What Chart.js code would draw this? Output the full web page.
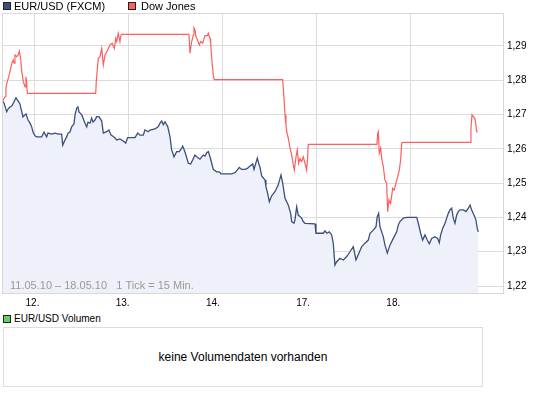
<!DOCTYPE html>
<html>
<head>
<meta charset="utf-8">
<script src="https://cdn.jsdelivr.net/npm/chart.js@4.4.0/dist/chart.umd.min.js"></script>
<style>
  body { margin: 0; background: #fff; font-family: "Liberation Sans", Arial, sans-serif; }
  #wrap { position: relative; width: 545px; height: 395px; overflow: hidden; }
  #main { position: absolute; left: 0; top: 0; }
  .leg { position: absolute; font-size: 11px; line-height: 12px; color: #000; white-space: nowrap; }
  .sq { position: absolute; width: 6px; height: 6px; border: 1px solid #222; }
  #volbox { position: absolute; left: 3px; top: 327px; width: 478px; height: 58px; border: 1px solid #ddd;
            font-size: 12px; line-height: 58px; text-align: center; color: #000; }
</style>
</head>
<body>
<div id="wrap">
  <canvas id="main" width="545" height="312"></canvas>
  <div class="sq" style="left:3px;top:2px;background:#3d4f7c"></div>
  <div class="leg" style="left:14px;top:0px">EUR/USD (FXCM)</div>
  <div class="sq" style="left:128px;top:2px;background:#ff5e5e"></div>
  <div class="leg" style="left:141px;top:0px">Dow Jones</div>
  <div class="sq" style="left:3px;top:315px;background:#66cc66"></div>
  <div class="leg" style="left:14px;top:313px;font-size:10px">EUR/USD Volumen</div>
  <div id="volbox">keine Volumendaten vorhanden</div>
</div>
<script>
// Handelstage (1 = 12.05., ... 5 = 18.05.), Zeit in Tagen
const dayLabels = ['12.', '13.', '14.', '17.', '18.'];
const dayTicks = [1, 2, 3, 4, 5];
const yTicks = [1.22, 1.23, 1.24, 1.25, 1.26, 1.27, 1.28, 1.29];

// EUR/USD (FXCM)
const eurX = [
  0.652,0.670,0.699,0.713,0.734,0.752,0.766,0.787,0.798,0.819,
  0.840,0.859,0.872,0.904,0.926,0.947,0.965,0.979,1.000,1.018,
  1.071,1.096,1.124,1.138,1.178,1.213,1.245,1.284,1.295,1.319,
  1.337,1.351,1.372,1.390,1.415,1.426,1.444,1.457,1.468,1.497,
  1.511,1.532,1.550,1.564,1.585,1.603,1.617,1.638,1.656,1.681,
  1.710,1.727,1.763,1.787,1.809,1.833,1.851,1.869,1.904,1.939,
  1.965,1.986,2.064,2.093,2.117,2.152,2.170,2.205,2.223,2.277,
  2.312,2.330,2.348,2.365,2.383,2.412,2.436,2.454,2.479,2.507,
  2.535,2.561,2.571,2.585,2.606,2.631,2.656,2.678,2.702,2.720,
  2.755,2.790,2.809,2.827,2.844,2.862,2.880,2.897,2.933,2.961,
  2.979,3.093,3.128,3.152,3.173,3.199,3.234,3.259,3.287,3.316,
  3.330,3.351,3.365,3.380,3.394,3.412,3.447,3.457,3.471,3.493,
  3.518,3.553,3.588,3.617,3.635,3.660,3.695,3.720,3.731,3.755,
  3.766,3.784,3.801,3.837,3.854,3.872,3.979,3.989,4.067,4.085,
  4.103,4.131,4.156,4.173,4.191,4.209,4.245,4.280,4.316,4.351,
  4.386,4.415,4.439,4.476,4.511,4.546,4.564,4.599,4.628,4.641,
  4.656,4.670,4.705,4.723,4.748,4.777,4.812,4.848,4.865,4.883,
  4.918,4.954,5.061,5.078,5.103,5.124,5.149,5.173,5.195,5.220,
  5.255,5.284,5.301,5.316,5.337,5.362,5.380,5.397,5.415,5.433,
  5.450,5.468,5.486,5.503,5.521,5.556,5.585,5.610,5.628,5.646,
  5.670,5.691,5.705,5.716
];
const eurY = [
  1.2740,1.2734,1.2708,1.2716,1.2722,1.2725,1.2731,1.2743,1.2749,1.2740,
  1.2731,1.2708,1.2693,1.2702,1.2684,1.2675,1.2664,1.2649,1.2638,1.2635,
  1.2635,1.2649,1.2635,1.2646,1.2643,1.2646,1.2643,1.2643,1.2611,1.2626,
  1.2635,1.2646,1.2649,1.2664,1.2673,1.2699,1.2719,1.2722,1.2708,1.2699,
  1.2690,1.2675,1.2664,1.2678,1.2675,1.2690,1.2678,1.2684,1.2694,1.2694,
  1.2681,1.2646,1.2650,1.2655,1.2640,1.2636,1.2632,1.2626,1.2629,1.2623,
  1.2617,1.2633,1.2633,1.2646,1.2640,1.2640,1.2655,1.2650,1.2655,1.2658,
  1.2665,1.2675,1.2681,1.2670,1.2679,1.2665,1.2636,1.2597,1.2577,1.2592,
  1.2592,1.2602,1.2608,1.2599,1.2582,1.2558,1.2556,1.2568,1.2582,1.2577,
  1.2570,1.2582,1.2579,1.2589,1.2592,1.2577,1.2558,1.2540,1.2533,1.2533,
  1.2527,1.2527,1.2531,1.2538,1.2546,1.2540,1.2540,1.2543,1.2550,1.2556,
  1.2540,1.2560,1.2573,1.2558,1.2546,1.2521,1.2509,1.2490,1.2475,1.2446,
  1.2463,1.2475,1.2495,1.2524,1.2500,1.2456,1.2436,1.2412,1.2388,1.2383,
  1.2393,1.2431,1.2407,1.2398,1.2388,1.2383,1.2381,1.2354,1.2354,1.2361,
  1.2354,1.2358,1.2349,1.2325,1.2261,1.2271,1.2281,1.2276,1.2286,1.2300,
  1.2315,1.2276,1.2291,1.2315,1.2325,1.2334,1.2354,1.2363,1.2373,1.2402,
  1.2412,1.2373,1.2344,1.2320,1.2296,1.2320,1.2339,1.2358,1.2378,1.2388,
  1.2398,1.2400,1.2400,1.2383,1.2354,1.2334,1.2349,1.2334,1.2323,1.2339,
  1.2344,1.2339,1.2326,1.2349,1.2368,1.2383,1.2398,1.2412,1.2422,1.2427,
  1.2398,1.2383,1.2407,1.2417,1.2422,1.2422,1.2417,1.2427,1.2436,1.2422,
  1.2407,1.2393,1.2368,1.2358
];

// Dow Jones (auf EUR/USD-Skala normiert)
const djX = [
  0.652,0.663,0.681,0.691,0.705,0.720,0.734,0.745,0.759,0.769,
  0.777,0.787,0.805,0.822,0.833,0.848,0.859,0.876,0.894,0.904,
  0.912,0.918,1.646,1.652,1.667,1.673,1.691,1.710,1.727,1.745,
  1.763,1.780,1.798,1.822,1.844,1.859,1.869,1.886,1.904,1.915,
  1.922,2.638,2.649,2.667,2.684,2.691,2.702,2.713,2.727,2.748,
  2.763,2.784,2.809,2.833,2.844,2.862,2.869,2.883,2.897,2.907,
  3.635,3.649,3.660,3.670,3.678,3.695,3.713,3.731,3.748,3.759,
  3.777,3.790,3.805,3.819,3.837,3.854,3.872,3.890,3.901,3.907,
  4.638,4.646,4.652,4.663,4.678,4.688,4.705,4.723,4.741,4.752,
  4.766,4.784,4.805,4.822,4.840,4.859,4.876,4.890,4.901,4.912,
  5.633,5.638,5.649,5.663,5.681,5.691,5.699,5.710
];
const djY = [
  1.2736,1.2743,1.2752,1.2777,1.2796,1.2810,1.2825,1.2840,1.2854,1.2859,
  1.2850,1.2874,1.2869,1.2874,1.2885,1.2864,1.2825,1.2796,1.2781,1.2810,
  1.2791,1.2762,1.2762,1.2796,1.2845,1.2864,1.2869,1.2893,1.2845,1.2874,
  1.2883,1.2893,1.2903,1.2908,1.2893,1.2922,1.2913,1.2937,1.2913,1.2932,
  1.2934,1.2934,1.2879,1.2913,1.2932,1.2953,1.2947,1.2927,1.2918,1.2903,
  1.2913,1.2908,1.2930,1.2930,1.2937,1.2922,1.2908,1.2854,1.2815,1.2802,
  1.2802,1.2748,1.2699,1.2670,1.2650,1.2631,1.2603,1.2582,1.2553,1.2538,
  1.2577,1.2597,1.2558,1.2572,1.2563,1.2577,1.2558,1.2538,1.2577,1.2613,
  1.2613,1.2645,1.2650,1.2587,1.2602,1.2572,1.2550,1.2509,1.2500,1.2417,
  1.2451,1.2441,1.2485,1.2480,1.2500,1.2519,1.2538,1.2568,1.2616,1.2619,
  1.2619,1.2660,1.2699,1.2694,1.2687,1.2670,1.2650,1.2650
];

const eurData = eurX.map((x, i) => ({ x: x, y: eurY[i] }));
const djData = djX.map((x, i) => ({ x: x, y: djY[i] }));

const FONT = '"Liberation Sans", Arial, sans-serif';

// Rahmen um die Zeichenfläche + Zeitraum-Hinweis
const framePlugin = {
  id: 'frame',
  afterDatasetsDraw(chart) {
    const a = chart.chartArea, ctx = chart.ctx;
    ctx.save();
    ctx.fillStyle = '#999';
    ctx.font = '11px ' + FONT;
    ctx.textBaseline = 'middle';
    ctx.fillText('11.05.10 \u2013 18.05.10   1 Tick = 15 Min.', a.left + 8, a.bottom - 7);
    ctx.restore();
  },
  afterDraw(chart) {
    const a = chart.chartArea, ctx = chart.ctx;
    ctx.save();
    ctx.strokeStyle = '#d8d8d8';
    ctx.lineWidth = 1;
    ctx.strokeRect(Math.round(a.left) + 0.5, Math.round(a.top) + 0.5,
                   Math.round(a.right - a.left), Math.round(a.bottom - a.top));
    ctx.restore();
  }
};

new Chart(document.getElementById('main'), {
  type: 'line',
  data: {
    datasets: [
      {
        label: 'Dow Jones',
        data: djData,
        borderColor: '#ff5e5e',
        borderWidth: 1.2,
        pointRadius: 0,
        fill: false,
        tension: 0,
        xAxisID: 'x',
        yAxisID: 'y'
      },
      {
        label: 'EUR/USD (FXCM)',
        data: eurData,
        borderColor: '#3d4f7c',
        backgroundColor: '#eef1f9',
        borderWidth: 1.3,
        pointRadius: 0,
        fill: 'start',
        tension: 0,
        xAxisID: 'x',
        yAxisID: 'y'
      }
    ]
  },
  options: {
    responsive: false,
    animation: false,
    events: [],
    layout: { padding: { left: 2, top: 13, right: 0, bottom: 0 } },
    plugins: { legend: { display: false }, tooltip: { enabled: false } },
    scales: {
      x: {
        type: 'linear',
        position: 'bottom',
        min: 0.649,
        max: 5.979,
        afterBuildTicks: s => { s.ticks = dayTicks.map(v => ({ value: v })); },
        afterFit: s => { s.height = 0; },
        ticks: { display: false },
        grid: { color: '#dcdcdc', drawTicks: false },
        border: { display: false }
      },
      xl: {
        type: 'linear',
        position: 'bottom',
        min: 0.662,
        max: 6.216,
        afterBuildTicks: s => { s.ticks = dayTicks.map(v => ({ value: v })); },
        afterFit: s => { s.height = 19; },
        ticks: {
          padding: 4,
          color: '#000',
          font: { size: 10, family: FONT },
          maxRotation: 0,
          callback: v => dayLabels[v - 1]
        },
        grid: { display: false, drawTicks: false },
        border: { display: false }
      },
      y: {
        type: 'linear',
        position: 'right',
        min: 1.21797,
        max: 1.29962,
        afterBuildTicks: s => { s.ticks = yTicks.map(v => ({ value: v })); },
        afterFit: s => { s.width = 42; },
        ticks: {
          padding: 4,
          color: '#000',
          font: { size: 10, family: FONT },
          callback: v => v.toFixed(2).replace('.', ',')
        },
        grid: { color: '#dcdcdc', drawTicks: false },
        border: { display: false }
      }
    }
  },
  plugins: [framePlugin]
});
</script>
</body>
</html>
